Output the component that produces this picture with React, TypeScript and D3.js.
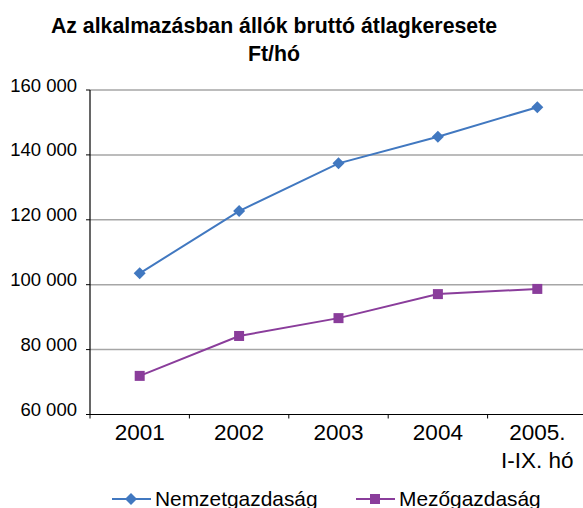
import React from "react";
import * as d3 from "d3";

const categories = ["2001", "2002", "2003", "2004", "2005.\nI-IX. hó"];
const nemzetgazdasag = [103500, 122700, 137400, 145600, 154700];
const mezogazdasag = [71900, 84200, 89700, 97100, 98700];
const yTicks = [60000, 80000, 100000, 120000, 140000, 160000];
const seriesNames = ["Nemzetgazdaság", "Mezőgazdaság"];
const title = ["Az alkalmazásban állók bruttó átlagkeresete", "Ft/hó"];

const W = 583;
const H = 508;
const left = 90;
const right = 587;
const top = 90;
const bottom = 414.5;
const BLUE = "#4178c0";
const PURPLE = "#8a3d9b";
const FONT = "Liberation Sans, Arial, sans-serif";

export default function App() {
  const x = d3.scaleBand<string>().domain(categories).range([left, right]);
  const y = d3.scaleLinear().domain([60000, 160000]).range([bottom, top]);
  const fmt = (v: number) => d3.format(",")(v).replace(/,/g, " ");
  const cx = (i: number) => (x(categories[i]) as number) + x.bandwidth() / 2;
  const line = d3
    .line<number>()
    .x((_, i) => cx(i))
    .y((d) => y(d));
  const diamond = (px: number, py: number, r: number) =>
    `M${px},${py - r}L${px + r},${py}L${px},${py + r}L${px - r},${py}Z`;

  return (
    <svg
      width={W}
      height={H}
      style={{ position: "absolute", left: 0, top: 0 }}
      fontFamily={FONT}
    >
      <rect width={W} height={H} fill="#fff" />
      <text x={274} y={33} textAnchor="middle" fontWeight="bold" fontSize={21.3}>
        {title[0]}
      </text>
      <text x={274} y={61} textAnchor="middle" fontWeight="bold" fontSize={21.3}>
        {title[1]}
      </text>
      {yTicks.map((t) => (
        <g key={t}>
          {t !== 60000 && (
            <line x1={left} x2={W} y1={y(t)} y2={y(t)} stroke="#a6a6a6" strokeWidth={1.5} />
          )}
          <line x1={left - 4} x2={left} y1={y(t)} y2={y(t)} stroke="#000" />
          <text x={77} y={y(t) + 1.5} textAnchor="end" fontSize={18.5} fill="#000">
            {fmt(t)}
          </text>
        </g>
      ))}
      <line x1={left} x2={left} y1={top} y2={bottom} stroke="#000" strokeWidth={1.2} />
      <line x1={left} x2={W} y1={bottom} y2={bottom} stroke="#000" strokeWidth={1.2} />
      {categories.map((c, i) => (
        <g key={c}>
          <line
            x1={x(c) as number}
            x2={x(c) as number}
            y1={bottom}
            y2={bottom + 4}
            stroke="#000"
          />
          {c.split("\n").map((part, j) => (
            <text
              key={j}
              x={cx(i)}
              y={440 + j * 28}
              textAnchor="middle"
              fontSize={22.5}
              fill="#000"
            >
              {part}
            </text>
          ))}
        </g>
      ))}
      <path d={line(nemzetgazdasag) || ""} fill="none" stroke={BLUE} strokeWidth={2} />
      <path d={line(mezogazdasag) || ""} fill="none" stroke={PURPLE} strokeWidth={2} />
      {nemzetgazdasag.map((v, i) => (
        <path key={i} d={diamond(cx(i), y(v), 6)} fill={BLUE} />
      ))}
      {mezogazdasag.map((v, i) => (
        <rect key={i} x={cx(i) - 5} y={y(v) - 5} width={10} height={10} fill={PURPLE} />
      ))}
      <g>
        <line x1={112} x2={151} y1={499} y2={499} stroke={BLUE} strokeWidth={2} />
        <path d={diamond(131, 499, 6)} fill={BLUE} />
        <text x={155} y={505.5} fontSize={20.9} fill="#000">
          {seriesNames[0]}
        </text>
        <line x1={356} x2={395} y1={499} y2={499} stroke={PURPLE} strokeWidth={2} />
        <rect x={370} y={494} width={10} height={10} fill={PURPLE} />
        <text x={399} y={505.5} fontSize={20.9} fill="#000">
          {seriesNames[1]}
        </text>
      </g>
    </svg>
  );
}
